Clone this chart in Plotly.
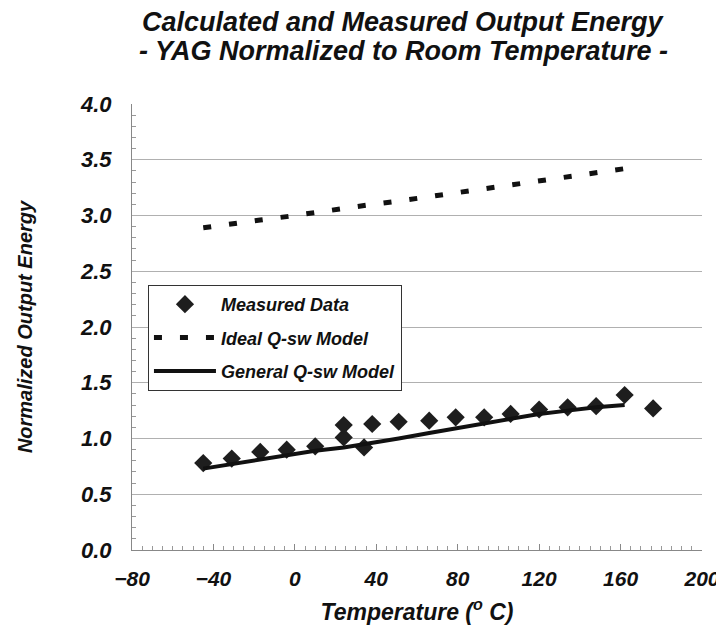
import plotly.graph_objects as go

# Measured data
temp_measured = [-45, -31, -17, -4, 10, 24, 24, 34, 38, 51, 66, 79, 93, 106, 120, 134, 148, 162, 176]
energy_measured = [0.78, 0.82, 0.88, 0.90, 0.93, 1.01, 1.12, 0.92, 1.13, 1.15, 1.16, 1.19, 1.19, 1.22, 1.26, 1.28, 1.29, 1.39, 1.27]

# Model curves
model_temp = [-45, -31, -17, -4, 10, 24, 38, 51, 66, 79, 93, 106, 120, 134, 148, 162]
ideal_energy = [2.89, 2.92, 2.96, 2.99, 3.03, 3.06, 3.10, 3.13, 3.17, 3.20, 3.24, 3.27, 3.31, 3.35, 3.38, 3.42]
general_energy = [0.73, 0.77, 0.81, 0.85, 0.89, 0.92, 0.96, 1.00, 1.05, 1.09, 1.13, 1.17, 1.22, 1.25, 1.28, 1.30]

series_names = ["Measured Data", "Ideal Q-sw Model", "General Q-sw Model"]
title_lines = ["Calculated and Measured Output Energy", "- YAG Normalized to Room Temperature -"]

FONT = "Liberation Sans"
INK = "#111111"

def bi(size):
    return dict(family=FONT, size=size, weight="bold", style="italic", color=INK)

fig = go.Figure()

fig.add_trace(go.Scatter(
    x=temp_measured, y=energy_measured, mode="markers", name=series_names[0],
    legendgroup="a",
    marker=dict(symbol="diamond", size=14, color="#1e1e1e"),
))
fig.add_trace(go.Scatter(
    x=model_temp, y=ideal_energy, mode="lines", name=series_names[1],
    legendgroup="b",
    line=dict(color=INK, width=5, dash="8px,18px"),
))
fig.add_trace(go.Scatter(
    x=model_temp, y=general_energy, mode="lines", name=series_names[2],
    legendgroup="c",
    line=dict(color=INK, width=4),
))

PLOT_TOP, PLOT_BOTTOM = 96, 630 - 88
PLOT_H = PLOT_BOTTOM - PLOT_TOP

fig.update_layout(
    width=724, height=630,
    paper_bgcolor="white", plot_bgcolor="white",
    margin=dict(l=124, r=24, t=PLOT_TOP, b=630 - PLOT_BOTTOM),
    font=dict(family=FONT, color=INK),
    showlegend=True,
    legend=dict(
        x=0.028, y=(PLOT_BOTTOM - 277) / PLOT_H, xanchor="left", yanchor="top",
        bgcolor="white", bordercolor="#333333", borderwidth=1,
        font=bi(18),
        itemwidth=62, tracegroupgap=7,
    ),
    annotations=[
        dict(text=title_lines[0], xref="paper", yref="paper", x=0.476, y=(PLOT_BOTTOM - 14) / PLOT_H,
             xanchor="center", yanchor="middle", showarrow=False, font=bi(27)),
        dict(text=title_lines[1], xref="paper", yref="paper", x=0.476, y=(PLOT_BOTTOM - 43) / PLOT_H,
             xanchor="center", yanchor="middle", showarrow=False, font=bi(27)),
    ],
)

fig.update_xaxes(
    range=[-80, 200], dtick=40, tick0=-80,
    showgrid=False, zeroline=False,
    showline=True, linecolor="#888888", linewidth=1,
    ticks="inside", ticklen=6, tickcolor="#888888",
    ticklabelstandoff=10,
    minor=dict(dtick=5, ticks="inside", ticklen=4, tickcolor="#999999", showgrid=False),
    tickfont=bi(21),
    title=dict(text="Temperature (<sup>o</sup> C)", standoff=14, font=bi(23)),
)
fig.update_yaxes(
    range=[0, 4], dtick=0.5, tickformat=".1f",
    showgrid=True, gridcolor="#b0b0b0", gridwidth=1,
    zeroline=False,
    showline=True, linecolor="#888888", linewidth=1,
    ticks="",
    ticklabelstandoff=15,
    minor=dict(dtick=0.1, ticks="inside", ticklen=4, tickcolor="#999999", showgrid=False),
    tickfont=bi(22),
    title=dict(text="Normalized Output Energy", standoff=42, font=bi(20)),
)

fig.write_html("out.html")
